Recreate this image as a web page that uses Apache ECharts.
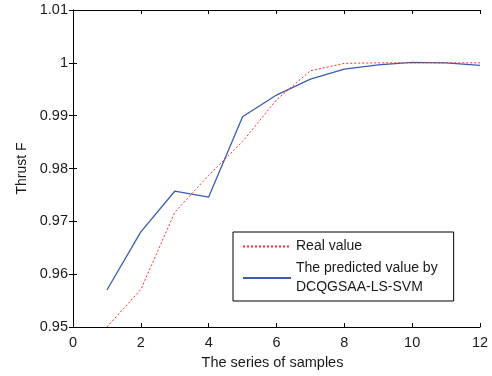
<!DOCTYPE html>
<html>
<head>
<meta charset="utf-8">
<script src="https://cdn.jsdelivr.net/npm/echarts@6/dist/echarts.min.js"></script>
<style>
  html, body { margin: 0; padding: 0; background: #fff; }
  #chart { width: 492px; height: 376px; }
</style>
</head>
<body>
<div id="chart"></div>
<script>
// sample index
const samples = [1, 2, 3, 4, 5, 6, 7, 8, 9, 10, 11, 12]
// measured thrust
const realValue = [0.9500, 0.9571, 0.9717, 0.9787, 0.9851, 0.9930, 0.9985, 0.9999, 1.0000, 1.0000, 1.0000, 1.0000]
// DCQGSAA-LS-SVM prediction
const predicted = [0.9570, 0.9680, 0.9757, 0.9746, 0.9898, 0.9939, 0.9969, 0.9988, 0.9996, 1.0001, 1.0000, 0.9995]

const font = 'Liberation Sans, Arial, sans-serif'
const chart = echarts.init(document.getElementById('chart'))

const axisCommon = {
  axisLine: { show: true, lineStyle: { color: '#000', width: 1 } },
  axisTick: { show: true, inside: true, length: 4, lineStyle: { color: '#000' } },
  splitLine: { show: false }
}

chart.setOption({
  animation: false,
  grid: { left: 73, right: 12, top: 10, bottom: 49 },
  legend: {
    orient: 'vertical',
    left: 233,
    top: 232,
    padding: [5, 16, 4, 9],
    itemGap: 3,
    itemWidth: 48,
    itemHeight: 14,
    itemStyle: { opacity: 0, borderWidth: 0 },
    borderColor: '#000',
    borderWidth: 1,
    backgroundColor: '#fff',
    textStyle: { fontFamily: font, fontSize: 14, color: '#1a1a1a', lineHeight: 19 },
    data: ['Real value', 'The predicted value by\nDCQGSAA-LS-SVM']
  },
  xAxis: [
    {
      ...axisCommon,
      type: 'value', min: 0, max: 12, interval: 2,
      name: 'The series of samples',
      nameLocation: 'middle',
      nameGap: 28,
      nameTextStyle: { fontFamily: font, fontSize: 14.5, color: '#1a1a1a', padding: [0, 8, 0, 0] },
      axisLabel: { fontFamily: font, fontSize: 14.5, color: '#1a1a1a', margin: 8 }
    },
    {
      ...axisCommon,
      type: 'value', min: 0, max: 12, interval: 2, position: 'top',
      axisLabel: { show: false }
    }
  ],
  yAxis: [
    {
      ...axisCommon,
      type: 'value', min: 0.95, max: 1.01, interval: 0.01,
      name: 'Thrust F',
      nameLocation: 'middle',
      nameGap: 44,
      nameTextStyle: { fontFamily: font, fontSize: 14, color: '#1a1a1a' },
      axisLabel: { fontFamily: font, fontSize: 14.5, color: '#1a1a1a', margin: 5 }
    },
    {
      ...axisCommon,
      type: 'value', min: 0.95, max: 1.01, interval: 0.01, position: 'right',
      axisLabel: { show: false }
    }
  ],
  series: [
    {
      name: 'Real value',
      type: 'line',
      symbol: 'none',
      data: samples.map((x, i) => [x, realValue[i]]),
      lineStyle: { color: '#ff2a2a', width: 1, type: [2, 2] },
      itemStyle: { color: '#ff2a2a' },
      z: 3
    },
    {
      name: 'The predicted value by\nDCQGSAA-LS-SVM',
      type: 'line',
      symbol: 'none',
      data: samples.map((x, i) => [x, predicted[i]]),
      lineStyle: { color: '#3a5cb4', width: 1.3 },
      itemStyle: { color: '#3a5cb4' },
      z: 2
    }
  ]
})
</script>
</body>
</html>
